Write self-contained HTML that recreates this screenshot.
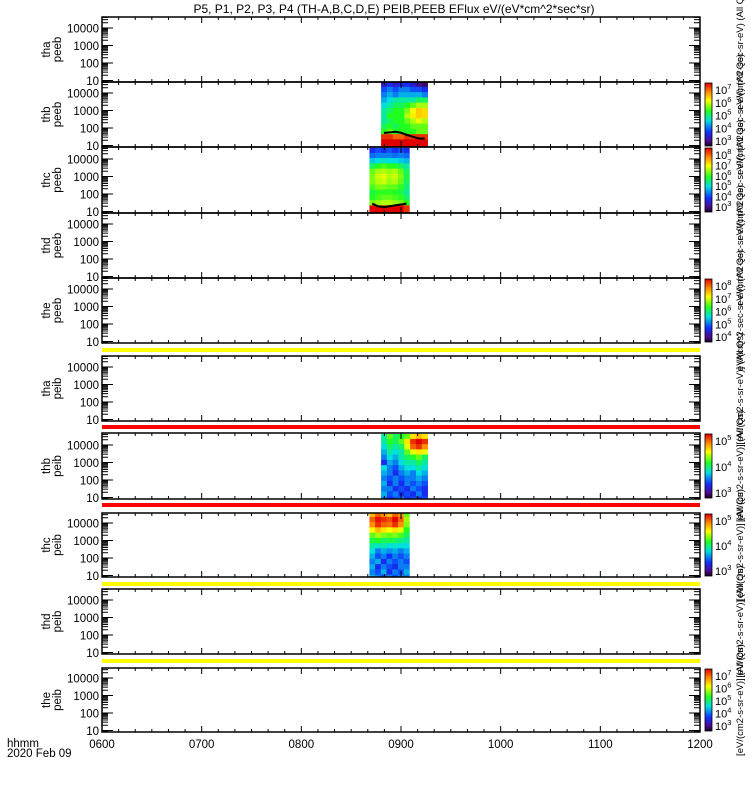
<!DOCTYPE html>
<html><head><meta charset="utf-8">
<style>
html,body{margin:0;padding:0;background:#fff;}
svg{display:block;font-family:"Liberation Sans",sans-serif;}
</style></head>
<body>
<svg id="chart" width="750" height="800" viewBox="0 0 750 800">
<defs>
<linearGradient id="cmap" x1="0" y1="1" x2="0" y2="0">
<stop offset="0" stop-color="#1a0020"/><stop offset="0.08" stop-color="#4b0a8c"/>
<stop offset="0.22" stop-color="#1030ff"/><stop offset="0.4" stop-color="#00e0e0"/>
<stop offset="0.55" stop-color="#20ff20"/><stop offset="0.72" stop-color="#ffff00"/>
<stop offset="0.85" stop-color="#ff9000"/><stop offset="1" stop-color="#e00000"/>
</linearGradient>
</defs>
<text x="394" y="13" text-anchor="middle" font-size="12">P5, P1, P2, P3, P4 (TH-A,B,C,D,E) PEIB,PEEB EFlux eV/(eV*cm^2*sec*sr)</text>
<text x="7" y="747" font-size="11.5">hhmm</text>
<text x="7" y="757" font-size="11.5">2020 Feb 09</text>
</svg>
<script>
// ---- data ----
const panelNames = [["tha","peeb"],["thb","peeb"],["thc","peeb"],["thd","peeb"],["the","peeb"],
                    ["tha","peib"],["thb","peib"],["thc","peib"],["thd","peib"],["the","peib"]];
const panelTops = [17,82,147,213,278,356,433,513,589,668];
const panelBottoms = [82,147,213,278,343,421,499,577,654,732];
const bandTops = [348,425,503,582,659];
const bandColors = ["#ffff00","#ff0000","#ff0000","#ffff00","#ffff00"];
const yTickValues = [10,100,1000,10000];
const yTickLabels = ["10","100","1000","10000"];
const xTickLabels = ["0600","0700","0800","0900","1000","1100","1200"];
const cbarPanels = [1,2,4,6,7,9];
const cbarLabels = [["7","6","5","4","3"],["8","7","6","5","4","3"],["8","7","6","5","4"],["5","4","3"],["5","4","3"],["7","6","5","4","3"]];
// energy bin edges (log10 eV)
const energyEdges = [4.63,4.35,4.05,3.75,3.45,3.15,2.85,2.55,2.25,1.95,1.65,1.35,1.05,0.85];
// spectrogram time spans (minutes after 0600)
const specStart = [168,161,168,161];
const specEnd = [196,185,196,185];
const specPanel = [1,2,6,7];
// normalized flux levels (0 = purple, 1 = red), rows top->bottom
const specB = [
[.15,.2,.15,.2,.2,.15,.1,.05],
[.25,.3,.25,.3,.3,.25,.25,.2],
[.3,.35,.3,.35,.35,.35,.35,.3],
[.35,.4,.45,.45,.45,.45,.5,.5],
[.4,.45,.5,.5,.55,.6,.65,.65],
[.45,.5,.55,.55,.62,.72,.78,.76],
[.45,.55,.55,.55,.66,.74,.78,.76],
[.45,.5,.55,.55,.6,.66,.7,.66],
[.5,.55,.5,.55,.55,.6,.6,.6],
[.55,.6,.55,.55,.55,.55,.6,.6],
[.95,.95,.9,.9,.95,.95,.95,.95],
[1,1,1,1,1,1,1,1],
[1,1,1,1,1,1,1,1]];
const specC = [
[.2,.25,.2,.25,.2,.25,.2],
[.28,.3,.3,.3,.28,.3,.28],
[.38,.4,.42,.4,.4,.38,.36],
[.5,.55,.58,.55,.55,.5,.45],
[.6,.65,.66,.64,.66,.6,.5],
[.62,.68,.7,.66,.68,.62,.52],
[.62,.66,.68,.64,.66,.6,.5],
[.58,.62,.62,.6,.6,.56,.48],
[.52,.56,.56,.56,.55,.52,.46],
[.55,.58,.6,.6,.58,.56,.5],
[.62,.64,.66,.66,.64,.62,.55],
[1,1,1,1,1,1,.95],
[1,1,1,1,1,1,.95]];
const specBi = [
[.45,.6,.5,.55,.6,.75,.8,.75],
[.45,.55,.5,.6,.75,.95,1,.95],
[.4,.5,.45,.5,.7,.9,.95,.85],
[.35,.45,.4,.45,.6,.7,.75,.7],
[.3,.4,.35,.45,.5,.55,.6,.5],
[.2,.35,.3,.4,.45,.45,.5,.45],
[.4,.3,.25,.35,.4,.4,.45,.4],
[.35,.3,.2,.3,.35,.3,.4,.35],
[.3,.25,.3,.25,.3,.3,.35,.3],
[.35,.2,.3,.2,.3,.25,.3,.25],
[.3,.3,.2,.25,.2,.3,.25,.2],
[.35,.25,.3,.2,.25,.2,.3,.2],
[.3,.2,.25,.3,.2,.25,.2,.25]];
const specCi = [
[.8,.9,.85,.8,.9,.85,.6],
[.9,.98,.95,.92,1,.9,.65],
[.85,.95,.9,.88,.95,.85,.62],
[.72,.8,.75,.72,.75,.7,.55],
[.6,.65,.62,.6,.62,.58,.5],
[.52,.55,.5,.52,.5,.48,.45],
[.45,.42,.45,.4,.42,.4,.4],
[.4,.3,.35,.32,.35,.3,.35],
[.35,.25,.3,.22,.3,.25,.3],
[.3,.35,.2,.3,.25,.3,.25],
[.35,.2,.3,.25,.2,.3,.3],
[.3,.25,.35,.2,.3,.25,.35],
[.35,.3,.25,.3,.25,.3,.3]];
const specGrids = [specB, specC, specBi, specCi];
// spacecraft potential lines (log10 eV) per column
const potB = [1.72,1.75,1.78,1.72,1.6,1.5,1.4,1.4];
const potC = [1.45,1.3,1.25,1.3,1.35,1.4,1.45];
const potGrids = [potB, potC];

// ---- scales ----
const X0 = 102, X1 = 700;
function xScale(min){ return X0 + (X1 - X0) * min / 360; }
function yScale(p, logE){ const b = panelBottoms[p]; return b - 1.5 - (logE - 1) * 17.5; }
function cmap(v){
  const stops=[[0,[26,0,32]],[.08,[75,10,140]],[.22,[16,48,255]],[.4,[0,224,224]],[.55,[32,255,32]],[.72,[255,255,0]],[.85,[255,144,0]],[1,[224,0,0]]];
  v=Math.max(0,Math.min(1,v));
  for(let i=1;i<stops.length;i++){ if(v<=stops[i][0]){ const a=stops[i-1],b=stops[i],t=(v-a[0])/(b[0]-a[0]);
    return "rgb("+a[1].map((c,k)=>Math.round(c+(b[1][k]-c)*t)).join(",")+")"; } }
  return "rgb(224,0,0)";
}
const svg = document.getElementById("chart");
const NS = "http://www.w3.org/2000/svg";
function mk(tag, attrs, parent){ const e=document.createElementNS(NS,tag); for(const k in attrs) e.setAttribute(k,attrs[k]); (parent||svg).appendChild(e); return e; }

// bands
bandTops.forEach((t,i)=>{
  const r = mk("rect",{x:X0,y:t,width:X1-X0,height:4,fill:bandColors[i]});
  
  
});

// spectrograms
specGrids.forEach((grid,s)=>{
  const p = specPanel[s];
  const g = mk("g",{});
  
  
  const nc = grid[0].length;
  const dt = (specEnd[s]-specStart[s])/nc;
  grid.forEach((row,r)=>{
    row.forEach((v,c)=>{
      const x = xScale(specStart[s]+c*dt), x2 = xScale(specStart[s]+(c+1)*dt);
      let yt = Math.max(yScale(p,energyEdges[r]), panelTops[p]);
      let yb = Math.min(yScale(p,energyEdges[r+1]), panelBottoms[p]);
      if(r===grid.length-1) yb = panelBottoms[p];
      const cell = mk("rect",{x:x.toFixed(2),y:yt.toFixed(2),width:(x2-x+0.4).toFixed(2),height:(yb-yt+0.4).toFixed(2),fill:cmap(v)},g);
      
      
    });
  });
  if(s<2){
    const pot = potGrids[s];
    const pts = pot.map((e,c)=>xScale(specStart[s]+(c+0.5)*dt).toFixed(1)+","+yScale(p,e).toFixed(1)).join(" ");
    const pl = mk("polyline",{points:pts,fill:"none",stroke:"#000","stroke-width":2},g);
    
    
  }
});

// panels
panelNames.forEach((nm,p)=>{
  const top=panelTops[p], bot=panelBottoms[p];
  const g = mk("g",{});
  
  
  mk("rect",{x:X0,y:top,width:X1-X0,height:bot-top,fill:"none",stroke:"#000","stroke-width":1.5},g);
  for(let d=0; d<=4; d++){
    for(let m=1; m<=9; m++){
      const le = d + Math.log10(m);
      if(le < 0.7) continue;
      const y = yScale(p, le);
      if(y < top || y > bot) continue;
      const len = m===1 ? 11 : 6;
      mk("line",{x1:X0,y1:y,x2:X0+len,y2:y,stroke:"#000","stroke-width":1},g);
      mk("line",{x1:X1,y1:y,x2:X1-len,y2:y,stroke:"#000","stroke-width":1},g);
    }
  }
  yTickValues.forEach((v,i)=>{
    const y = yScale(p, Math.log10(v));
    const t = mk("text",{x:99,y:y+4.5,"text-anchor":"end","font-size":11.5},g);
    t.textContent = yTickLabels[i];
    
    
  });
  for(let m=0; m<=360; m+=10){
    const x = xScale(m), len = (m%60===0)?6:3;
    mk("line",{x1:x,y1:top,x2:x,y2:top+len,stroke:"#000","stroke-width":1},g);
    mk("line",{x1:x,y1:bot,x2:x,y2:bot-len,stroke:"#000","stroke-width":1},g);
  }
  const cy = (top+bot)/2;
  const lab = mk("text",{transform:"translate(50,"+cy+") rotate(-90)","text-anchor":"middle","font-size":11.5},g);
  
  
  const t1 = mk("tspan",{x:0,dy:0},lab); t1.textContent = nm[0];
  const t2 = mk("tspan",{x:0,dy:11},lab); t2.textContent = nm[1];
  const ul = mk("text",{transform:"translate(743,"+cy+") rotate(-90)","text-anchor":"middle","font-size":9.5},g);
  ul.textContent = p<5 ? "eV/(cm^2-sec-sr-eV) (All Qs)" : "[eV/(cm2-s-sr-eV)] (All Qs)";
  
  
});

// colorbars
cbarPanels.forEach((p,i)=>{
  const top=panelTops[p], bot=panelBottoms[p];
  const g = mk("g",{});
  
  
  mk("rect",{x:705,y:top+1,width:7,height:bot-top-2,fill:"url(#cmap)",stroke:"#000","stroke-width":0.8},g);
  const labs = cbarLabels[i], n = labs.length;
  labs.forEach((l,k)=>{
    const y = top + 8 + k*(bot-top-14)/(n-1);
    const t = mk("text",{x:715,y:y+4,"font-size":11},g);
    t.textContent = "10";
    const sup = mk("tspan",{dy:-5,"font-size":7.5},t); sup.textContent = l;
    
    
  });
});

// x tick labels
xTickLabels.forEach((l,i)=>{
  const t = mk("text",{x:xScale(i*60),y:748,"text-anchor":"middle","font-size":11.5});
  t.textContent = l;
  
  
});
</script>
</body></html>
